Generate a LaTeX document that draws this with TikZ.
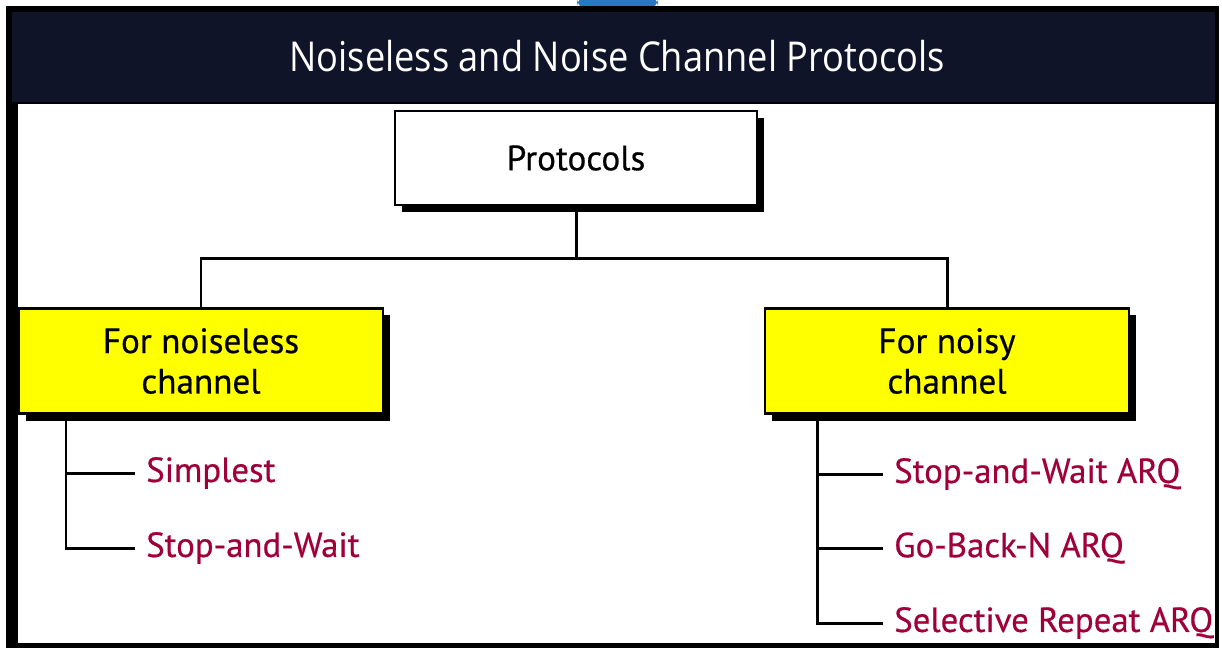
\documentclass[tikz,border=0pt]{standalone}
\usepackage{fontspec}
\usepackage{tikz}
\usetikzlibrary{arrows.meta, calc, shadows, positioning}
\setmainfont{PT Sans}
\newfontfamily\titlefont[FakeStretch=0.88]{Open Sans}
\newfontfamily\boxfont[FakeBold=0.5]{PT Sans}
\definecolor{navyband}{RGB}{15,20,40}
\definecolor{boxyellow}{RGB}{255,255,0}
\definecolor{itemred}{RGB}{160,0,58}
\definecolor{tabblue}{RGB}{40,120,200}

\tikzset{
	conn/.style={line width=0.85pt, black},
	protobox/.style={draw, line width=0.6pt, fill=white, minimum width=3.62cm, minimum height=0.94cm,
		font=\boxfont\fontsize{10}{11.5}\selectfont,
		drop shadow={shadow xshift=0.07cm, shadow yshift=-0.07cm, fill=black, opacity=1}},
	chanbox/.style={protobox, fill=boxyellow, minimum width=3.63cm, minimum height=1.05cm, align=center},
	item/.style={anchor=west, inner xsep=3pt, text=itemred, font=\boxfont\fontsize{9.9}{12}\selectfont}
}

\begin{document}
\begin{tikzpicture}[x=0.01cm, y=-0.01cm]
		\useasboundingbox (0,0) rectangle (1222,648);
		% Frame and title band
		\fill[white] (0,0) rectangle (1222,648);
		\fill[tabblue, rounded corners=3pt] (577,-4) rectangle (658,9);
		\fill[black] (6,6) rectangle (1219,648);
		\fill[white] (18,104) rectangle (1215,643);
		\fill[navyband] (12,12) rectangle (1215,102);
		\node[text=white, font=\titlefont\fontsize{11.7}{13}\selectfont] (title) at (617,56) {Noiseless and Noise Channel Protocols};
		
		% Boxes
		\node[protobox] (proto) at (576,158) {Protocols};
		\node[chanbox] (noiseless) at (201,361) {For noiseless\\channel};
		\node[chanbox] (noisy) at (947,361) {For noisy\\channel};
		
		% Tree
		\coordinate (hub) at (576,258);
		\draw[conn] (proto.south) -- (hub);
		\draw[conn] (noiseless.north) |- (hub) -| (noisy.north);
		
		% Noiseless channel protocols
		\node[item] (simplest) at (135,473) {Simplest};
		\node[item] (stopwait) at (135,548) {Stop-and-Wait};
		\coordinate (ltop) at (66,414);
		\draw[conn] (ltop) |- (simplest.west);
		\draw[conn] (ltop) |- (stopwait.west);
		
		% Noisy channel protocols
		\node[item] (swarq) at (883,474) {Stop-and-Wait ARQ};
		\node[item] (gbnarq) at (883,548) {Go-Back-N ARQ};
		\node[item] (srarq) at (883,623) {Selective Repeat ARQ};
		\coordinate (rtop) at (817,414);
		\draw[conn] (rtop) |- (swarq.west);
		\draw[conn] (rtop) |- (gbnarq.west);
		\draw[conn] (rtop) |- (srarq.west);
	\end{tikzpicture}
\end{document}
